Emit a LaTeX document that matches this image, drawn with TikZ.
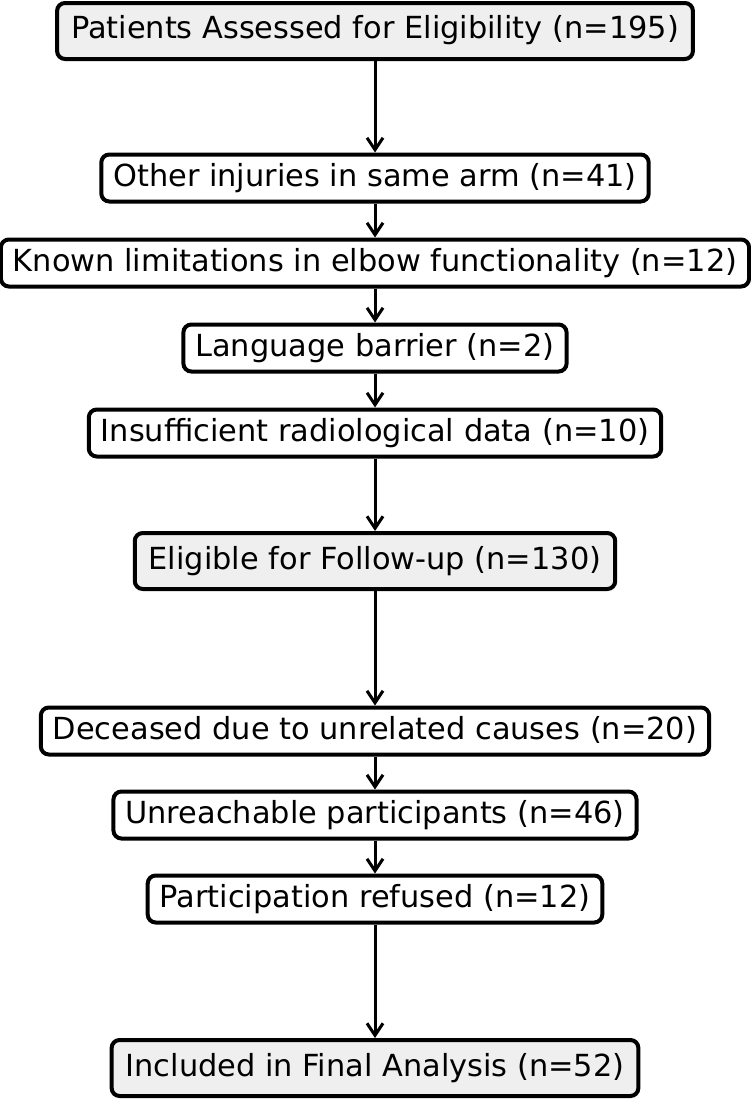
\documentclass[tikz,border=0pt]{standalone}
\usepackage{fontspec}
\setmainfont{DejaVu Sans}
\usepackage{xcolor}
\usepackage{tikz}
\usetikzlibrary{positioning,arrows.meta}
\definecolor{keybg}{HTML}{EFEFEF}
\definecolor{boxbd}{HTML}{000000}
\tikzset{
  stepbox/.style={draw=boxbd,line width=2pt,rounded corners=4pt,fill=white,
    inner xsep=6pt,inner ysep=0pt,minimum height=23.5pt,
    text height=11pt,text depth=3pt,font=\fontsize{15.2}{18}\selectfont},
  keybox/.style={stepbox,fill=keybg,inner xsep=7pt,minimum height=28pt},
  flow/.style={line width=1.5pt,-{Straight Barb[length=6pt,width=8pt]}}
}
\begin{document}
\begin{tikzpicture}[x=0.5pt,y=-0.5pt]
\useasboundingbox (0,0) rectangle (750,1103);
\node[keybox] (pat) at (375,31) {Patients Assessed for Eligibility (n=195)};
\node[stepbox] (inj) at (375,178) {Other injuries in same arm (n=41)};
\node[stepbox] (lim) at (375,263) {Known limitations in elbow functionality (n=12)};
\node[stepbox] (lang) at (375,348) {Language barrier (n=2)};
\node[stepbox] (radio) at (375,433) {Insufficient radiological data (n=10)};
\node[keybox] (elig) at (375,561) {Eligible for Follow-up (n=130)};
\node[stepbox] (dec) at (375,731) {Deceased due to unrelated causes (n=20)};
\node[stepbox] (unreach) at (375,815) {Unreachable participants (n=46)};
\node[stepbox] (refus) at (375,899) {Participation refused (n=12)};
\node[keybox] (incl) at (375,1068) {Included in Final Analysis (n=52)};
\draw[flow] (pat) -- (inj);
\draw[flow] (inj) -- (lim);
\draw[flow] (lim) -- (lang);
\draw[flow] (lang) -- (radio);
\draw[flow] (radio) -- (elig);
\draw[flow] (elig) -- (dec);
\draw[flow] (dec) -- (unreach);
\draw[flow] (unreach) -- (refus);
\draw[flow] (refus) -- (incl);
\end{tikzpicture}
\end{document}
